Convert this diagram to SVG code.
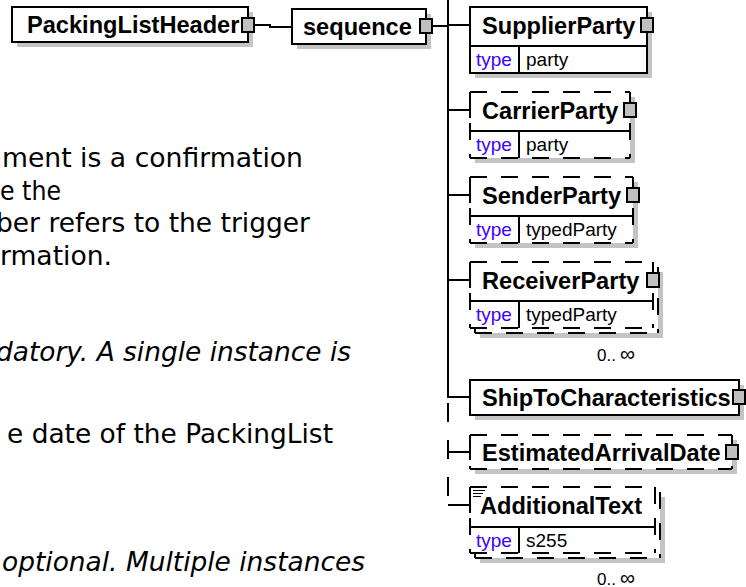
<svg xmlns="http://www.w3.org/2000/svg" width="746" height="587" viewBox="0 0 746 587">
<style>
.bg{fill:#fff}
.box{fill:#fff;stroke:#000;stroke-width:2}
.fill{fill:#fff}
.dash{fill:none;stroke:#000;stroke-width:2;stroke-dasharray:17 14}
.ln{fill:none;stroke:#000;stroke-width:2}
.thin{fill:none;stroke:#000;stroke-width:1}
.shadow{fill:#c4c4c4}
.sq{fill:#c0c0c0;stroke:#000;stroke-width:2}
.name{font-family:"Liberation Sans",Arial,sans-serif;font-weight:bold;font-size:23.6px;fill:#000}
.tl{font-family:"Liberation Sans",Arial,sans-serif;font-size:19px;fill:#4000ff}
.tv{font-family:"Liberation Sans",Arial,sans-serif;font-size:19px;fill:#000}
.occ{font-family:"Liberation Sans",Arial,sans-serif;font-size:17px;fill:#000}
.inf{font-size:21px}
.body{font-family:"DejaVu Sans",Verdana,sans-serif;font-size:26.7px;fill:#000}
.it{font-style:italic}
</style>
<rect class="bg" x="0" y="0" width="746" height="587"/>

<g id="text">
<text class="body" x="2" y="167" textLength="301" lengthAdjust="spacingAndGlyphs">ment is a confirmation</text>
<text class="body" x="0" y="200" textLength="61" lengthAdjust="spacingAndGlyphs">e the</text>
<text class="body" x="-4" y="232" textLength="314" lengthAdjust="spacingAndGlyphs">ber refers to the trigger</text>
<text class="body" x="0" y="265" textLength="112" lengthAdjust="spacingAndGlyphs">rmation.</text>
<text class="body it" x="-4" y="361" textLength="355" lengthAdjust="spacingAndGlyphs">datory. A single instance is</text>
<text class="body" x="7" y="443" textLength="326" lengthAdjust="spacingAndGlyphs">e date of the PackingList</text>
<text class="body it" x="2" y="571" textLength="363" lengthAdjust="spacingAndGlyphs">optional. Multiple instances</text>
</g>

<g id="connectors">
<polyline class="ln" points="254,25 270,25 270,27 292,27"/>
<line class="ln" x1="432" y1="26" x2="448" y2="26"/>
<line class="ln" x1="448" y1="0" x2="448" y2="398"/>
<line class="ln" x1="448" y1="403" x2="448" y2="497" stroke-dasharray="19 18"/>
<line class="ln" x1="448" y1="25" x2="470" y2="25"/>
<line class="ln" x1="448" y1="110" x2="470" y2="110"/>
<line class="ln" x1="448" y1="195" x2="470" y2="195"/>
<line class="ln" x1="448" y1="280" x2="470" y2="280"/>
<line class="ln" x1="448" y1="397" x2="470" y2="397"/>
<line class="ln" x1="448" y1="452" x2="470" y2="452"/>
<line class="ln" x1="448" y1="505" x2="470" y2="505"/>
</g>

<g id="PackingListHeader">
<rect class="shadow" x="17" y="12" width="236" height="35"/>
<rect class="box" x="12" y="7" width="236" height="35"/>
<text class="name" x="27" y="33">PackingListHeader</text>
<rect class="sq" x="242" y="18" width="12" height="14"/>
</g>

<g id="sequence">
<rect class="shadow" x="297" y="14" width="134" height="35"/>
<rect class="box" x="292" y="9" width="134" height="35"/>
<text class="name" x="303" y="35">sequence</text>
<rect class="sq" x="420" y="19" width="12" height="14"/>
</g>

<g id="SupplierParty">
<rect class="shadow" x="475" y="12" width="177" height="66"/>
<rect class="box" x="470" y="7" width="177" height="66"/>
<line class="ln" x1="470" y1="46" x2="647" y2="46"/>
<line class="ln" x1="519" y1="46" x2="519" y2="73"/>
<text class="name" x="482" y="34">SupplierParty</text>
<text class="tl" x="476" y="66">type</text>
<text class="tv" x="526" y="66">party</text>
<rect class="sq" x="641" y="18" width="12" height="14"/>
</g>

<g id="CarrierParty">
<rect class="shadow" x="475" y="97" width="160" height="66"/>
<rect class="fill" x="470" y="92" width="160" height="66"/>
<path class="dash" d="M470,92 H630 M470,92 V158 M630,92 V158 M470,158 H630"/>
<line class="ln" x1="470" y1="102" x2="470" y2="118"/>
<line class="ln" x1="470" y1="131" x2="630" y2="131"/>
<line class="ln" x1="519" y1="131" x2="519" y2="158"/>
<text class="name" x="482" y="119">CarrierParty</text>
<text class="tl" x="476" y="151">type</text>
<text class="tv" x="526" y="151">party</text>
<rect class="sq" x="624" y="103" width="12" height="14"/>
</g>

<g id="SenderParty">
<rect class="shadow" x="475" y="182" width="163" height="66"/>
<rect class="fill" x="470" y="177" width="163" height="66"/>
<path class="dash" d="M470,177 H633 M470,177 V243 M633,177 V243 M470,243 H633"/>
<line class="ln" x1="470" y1="187" x2="470" y2="203"/>
<line class="ln" x1="470" y1="216" x2="633" y2="216"/>
<line class="ln" x1="519" y1="216" x2="519" y2="243"/>
<text class="name" x="482" y="204">SenderParty</text>
<text class="tl" x="476" y="236">type</text>
<text class="tv" x="526" y="236">typedParty</text>
<rect class="sq" x="627" y="188" width="12" height="14"/>
</g>

<g id="ReceiverParty">
<rect class="shadow" x="480" y="272" width="183" height="66"/>
<rect class="fill" x="475" y="267" width="183" height="66"/>
<path class="dash" d="M475,267 H658 M475,267 V333 M658,267 V333 M475,333 H658"/>
<rect class="fill" x="470" y="262" width="183" height="66"/>
<path class="dash" d="M470,262 H653 M470,262 V328 M653,262 V328 M470,328 H653"/>
<line class="ln" x1="470" y1="272" x2="470" y2="288"/>
<line class="ln" x1="470" y1="301" x2="653" y2="301"/>
<line class="ln" x1="519" y1="301" x2="519" y2="328"/>
<text class="name" x="482" y="289">ReceiverParty</text>
<text class="tl" x="476" y="321">type</text>
<text class="tv" x="526" y="321">typedParty</text>
<rect class="sq" x="647" y="273" width="12" height="14"/>
<text class="occ" x="597" y="361">0..<tspan class="inf" dx="4">∞</tspan></text>
</g>

<g id="ShipToCharacteristics">
<rect class="shadow" x="475" y="385" width="269" height="35"/>
<rect class="box" x="470" y="380" width="269" height="35"/>
<text class="name" x="482" y="406">ShipToCharacteristics</text>
<rect class="sq" x="733" y="390" width="12" height="14"/>
</g>

<g id="EstimatedArrivalDate">
<rect class="shadow" x="475" y="440" width="262" height="34"/>
<rect class="fill" x="470" y="435" width="262" height="34"/>
<path class="dash" d="M470,435 H732 M470,435 V469 M732,435 V469 M470,469 H732"/>
<line class="ln" x1="470" y1="444" x2="470" y2="460"/>
<text class="name" x="482" y="461">EstimatedArrivalDate</text>
<rect class="sq" x="726" y="445" width="12" height="14"/>
</g>

<g id="AdditionalText">
<rect class="shadow" x="480" y="497" width="185" height="66"/>
<rect class="fill" x="475" y="492" width="185" height="66"/>
<path class="dash" d="M475,492 H660 M475,492 V558 M660,492 V558 M475,558 H660"/>
<rect class="fill" x="470" y="487" width="185" height="66"/>
<path class="dash" d="M470,487 H655 M470,487 V553 M655,487 V553 M470,553 H655"/>
<line class="ln" x1="470" y1="497" x2="470" y2="513"/>
<line class="ln" x1="470" y1="527" x2="655" y2="527"/>
<line class="ln" x1="519" y1="527" x2="519" y2="553"/>
<path class="thin" d="M473,490.5 H485 M473,493.5 H483 M473,496.5 H481"/>
<text class="name" x="480" y="514">AdditionalText</text>
<text class="tl" x="476" y="547">type</text>
<text class="tv" x="526" y="547">s255</text>
<text class="occ" x="597" y="585">0..<tspan class="inf" dx="4">∞</tspan></text>
</g>
</svg>
